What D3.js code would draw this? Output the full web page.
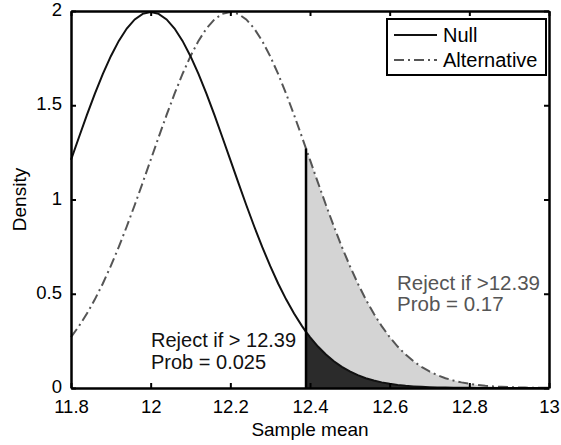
<!DOCTYPE html>
<html><head><meta charset="utf-8">
<script src="https://cdn.jsdelivr.net/npm/d3@7"></script>
<style>
body{margin:0;background:#fff;}
text{font-family:"Liberation Sans",Arial,Helvetica,sans-serif;}
</style></head>
<body>
<svg id="chart" width="561" height="445"></svg>
<script>
// sample means (x)
const xs = [11.80,11.82,11.84,11.86,11.88,11.90,11.92,11.94,11.96,11.98,
  12.00,12.02,12.04,12.06,12.08,12.10,12.12,12.14,12.16,12.18,
  12.20,12.22,12.24,12.26,12.28,12.30,12.32,12.34,12.36,12.38,12.39,
  12.40,12.42,12.44,12.46,12.48,12.50,12.52,12.54,12.56,12.58,
  12.60,12.62,12.64,12.66,12.68,12.70,12.72,12.74,12.76,12.78,
  12.80,12.82,12.84,12.86,12.88,12.90,12.92,12.94,12.96,12.98,13.00];
// Null density
const nullDensity = [1.2099,1.3304,1.4485,1.5613,1.6661,1.7603,1.8414,1.9070,1.9552,1.9848,
  1.9947,1.9848,1.9552,1.9070,1.8414,1.7603,1.6661,1.5613,1.4485,1.3304,
  1.2099,1.0893,0.9709,0.8568,0.7486,0.6476,0.5546,0.4703,0.3947,0.3281,0.2980,
  0.2700,0.2199,0.1774,0.1416,0.1120,0.0876,0.0679,0.0521,0.0396,0.0298,
  0.0222,0.0163,0.0119,0.0086,0.0062,0.0044,0.0031,0.0021,0.0015,0.0010,
  0.0007,0.0004,0.0003,0.0002,0.0001,0.0001,0.0000,0.0000,0.0000,0.0000,0.0000];
// Alternative density
const altDensity = [0.2700,0.3281,0.3947,0.4703,0.5546,0.6476,0.7486,0.8568,0.9709,1.0893,
  1.2099,1.3304,1.4485,1.5613,1.6661,1.7603,1.8414,1.9070,1.9552,1.9848,
  1.9947,1.9848,1.9552,1.9070,1.8414,1.7603,1.6661,1.5613,1.4485,1.3304,1.2702,
  1.2099,1.0893,0.9709,0.8568,0.7486,0.6476,0.5546,0.4703,0.3947,0.3281,
  0.2700,0.2199,0.1774,0.1416,0.1120,0.0876,0.0679,0.0521,0.0396,0.0298,
  0.0222,0.0163,0.0119,0.0086,0.0062,0.0044,0.0031,0.0021,0.0015,0.0010,0.0007];
const criticalValue = 12.39;
const xTicks = [11.8,12,12.2,12.4,12.6,12.8,13];
const yTicks = [0,0.5,1,1.5,2];
const seriesNames = ["Null","Alternative"];
const leftNote = ["Reject if > 12.39","Prob = 0.025"];
const rightNote = ["Reject if >12.39","Prob = 0.17"];

const W=561,H=445, m={l:71,r:12,t:11,b:57};
const svg=d3.select("#chart");
const x=d3.scaleLinear().domain([11.8,13]).range([m.l,W-m.r]);
const y=d3.scaleLinear().domain([0,2]).range([H-m.b,m.t]);

const pts = xs.map((v,i)=>({x:v,n:nullDensity[i],a:altDensity[i]}));
const tail = pts.filter(d=>d.x>=criticalValue);

svg.append("path").datum(tail)
  .attr("d",d3.area().x(d=>x(d.x)).y0(y(0)).y1(d=>y(d.a)))
  .attr("fill","#d4d4d4");
svg.append("path").datum(tail)
  .attr("d",d3.area().x(d=>x(d.x)).y0(y(0)).y1(d=>y(d.n)))
  .attr("fill","#2b2b2b");

svg.append("path").datum(pts)
  .attr("d",d3.line().x(d=>x(d.x)).y(d=>y(d.a)))
  .attr("fill","none").attr("stroke","#555").attr("stroke-width",2)
  .attr("stroke-dasharray","10,4,2,4");
svg.append("path").datum(pts)
  .attr("d",d3.line().x(d=>x(d.x)).y(d=>y(d.n)))
  .attr("fill","none").attr("stroke","#111").attr("stroke-width",2);

const crit = pts.find(d=>d.x===criticalValue);
svg.append("line").attr("x1",x(criticalValue)).attr("x2",x(criticalValue))
  .attr("y1",y(0)).attr("y2",y(crit.a)).attr("stroke","#000").attr("stroke-width",2.5);

// axes
const fmt = d=>String(+d.toFixed(1));
const gx=svg.append("g").attr("transform",`translate(0,${y(0)})`)
  .call(d3.axisBottom(x).tickValues(xTicks).tickFormat(fmt).tickSizeInner(-5).tickSizeOuter(0).tickPadding(12));
const gxt=svg.append("g").attr("transform",`translate(0,${y(2)})`)
  .call(d3.axisTop(x).tickValues(xTicks).tickFormat("").tickSizeInner(-5).tickSizeOuter(0));
const gy=svg.append("g").attr("transform",`translate(${x(11.8)},0)`)
  .call(d3.axisLeft(y).tickValues(yTicks).tickFormat(fmt).tickSizeInner(-5).tickSizeOuter(0).tickPadding(9));
const gyr=svg.append("g").attr("transform",`translate(${x(13)},0)`)
  .call(d3.axisRight(y).tickValues(yTicks).tickFormat("").tickSizeInner(-5).tickSizeOuter(0));
[gx,gxt,gy,gyr].forEach(g=>{
  g.select(".domain").attr("stroke","#000").attr("stroke-width",2.5);
  g.selectAll(".tick line").attr("stroke","#000").attr("stroke-width",2);
  g.selectAll(".tick text").attr("font-size",18.5).attr("fill","#000")
   .style("font-family",'"Liberation Sans",Arial,sans-serif');
});
gy.selectAll(".tick text").attr("dy","0.25em");

svg.append("text").attr("x",(x(11.8)+x(13))/2).attr("y",436).attr("text-anchor","middle")
  .attr("font-size",19).text("Sample mean");
svg.append("text").attr("transform",`translate(26,${(y(0)+y(2))/2}) rotate(-90)`)
  .attr("text-anchor","middle").attr("font-size",19).text("Density");

// annotations
leftNote.forEach((t,i)=>svg.append("text").attr("x",151).attr("y",347+i*22)
  .attr("font-size",20).attr("fill","#111").text(t));
rightNote.forEach((t,i)=>svg.append("text").attr("x",397).attr("y",290+i*21)
  .attr("font-size",20.5).attr("fill","#555").text(t));

// legend
const lg=svg.append("g");
lg.append("rect").attr("x",387).attr("y",19).attr("width",159).attr("height",56)
  .attr("fill","#fff").attr("stroke","#000").attr("stroke-width",2);
seriesNames.forEach((nm,i)=>{
  const yy=35+i*25;
  lg.append("line").attr("x1",394).attr("x2",437).attr("y1",yy).attr("y2",yy)
    .attr("stroke",i?"#555":"#111").attr("stroke-width",2)
    .attr("stroke-dasharray",i?"10,4,2,4":null);
  lg.append("text").attr("x",443).attr("y",yy+7).attr("font-size",20).text(nm);
});
</script>
</body></html>
